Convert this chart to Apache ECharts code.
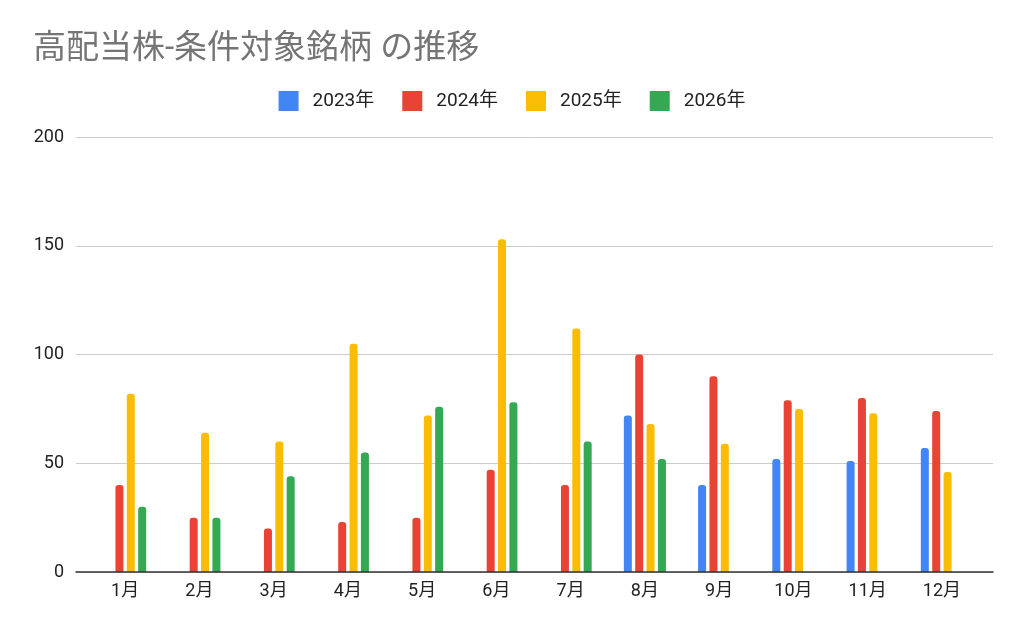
<!DOCTYPE html>
<html>
<head>
<meta charset="utf-8">
<script src="https://cdn.jsdelivr.net/npm/echarts@6/dist/echarts.min.js"></script>
<style>
html, body { margin: 0; padding: 0; background: #fff; }
#container { width: 1024px; height: 634px; }
</style>
</head>
<body>
<div id="container"></div>
<script>
var months = ['1月', '2月', '3月', '4月', '5月', '6月', '7月', '8月', '9月', '10月', '11月', '12月'];
var seriesNames = ['2023年', '2024年', '2025年', '2026年'];
var data2023 = ['-', '-', '-', '-', '-', '-', '-', 72, 40, 52, 51, 57];
var data2024 = [40, 25, 20, 23, 25, 47, 40, 100, 90, 79, 80, 74];
var data2025 = [82, 64, 60, 105, 72, 153, 112, 68, 59, 75, 73, 46];
var data2026 = [30, 25, 44, 55, 76, 78, 60, 52, '-', '-', '-', '-'];
var yTicks = [0, 50, 100, 150, 200];

var dom = document.getElementById("container");
var myChart = echarts.init(dom);
var option = null;

var colors = ['#4285f4', '#ea4335', '#fbbc04', '#34a853'];
var allData = [data2023, data2024, data2025, data2026];
var fontFamily = 'Roboto, "Noto Sans CJK JP", sans-serif';

var series = [];
for (var i = 0; i < seriesNames.length; i++) {
    series.push({
        name: seriesNames[i],
        type: 'bar',
        xAxisIndex: 1,
        yAxisIndex: 1,
        barWidth: 8,
        barGap: '42%',
        itemStyle: {
            color: colors[i],
            borderRadius: [3, 3, 0, 0]
        },
        data: allData[i]
    });
}

option = {
    color: colors,
    animation: false,
    title: {
        text: '高配当株-条件対象銘柄 の推移',
        left: 28,
        top: 28,
        textStyle: {
            color: '#757575',
            fontSize: 33,
            fontWeight: 'normal',
            fontFamily: fontFamily
        }
    },
    legend: {
        data: seriesNames,
        top: 86,
        left: 'center',
        icon: 'rect',
        itemWidth: 20,
        itemHeight: 20,
        itemGap: 28,
        itemStyle: {borderRadius: 2},
        textStyle: {
            color: '#222',
            fontSize: 19,
            fontFamily: fontFamily,
            padding: [0, 0, 0, 9]
        }
    },
    grid: [
        {left: 76, right: 31, top: 137, bottom: 62},
        {left: 88, right: 45, top: 137, bottom: 62}
    ],
    xAxis: [
        {
            // only the base line across the full width
            gridIndex: 0,
            type: 'category',
            data: [''],
            axisTick: {show: false},
            axisLabel: {show: false},
            axisLine: {lineStyle: {color: '#333', width: 1.5}},
            z: 5
        },
        {
            gridIndex: 1,
            type: 'category',
            data: months,
            axisTick: {show: false},
            axisLine: {show: false},
            axisLabel: {
                color: '#222',
                fontSize: 18,
                fontFamily: fontFamily,
                margin: 11
            }
        }
    ],
    yAxis: [
        {
            gridIndex: 0,
            type: 'value',
            min: yTicks[0],
            max: yTicks[yTicks.length - 1],
            interval: yTicks[1] - yTicks[0],
            axisLine: {show: false},
            axisTick: {show: false},
            axisLabel: {
                color: '#222',
                fontSize: 18,
                fontFamily: fontFamily,
                margin: 12
            },
            splitLine: {lineStyle: {color: '#cccccc', width: 1}}
        },
        {
            gridIndex: 1,
            type: 'value',
            min: yTicks[0],
            max: yTicks[yTicks.length - 1],
            interval: yTicks[1] - yTicks[0],
            show: false,
            splitLine: {show: false}
        }
    ],
    series: series
};

if (option && typeof option === "object") {
    myChart.setOption(option, true);
}
</script>
</body>
</html>
